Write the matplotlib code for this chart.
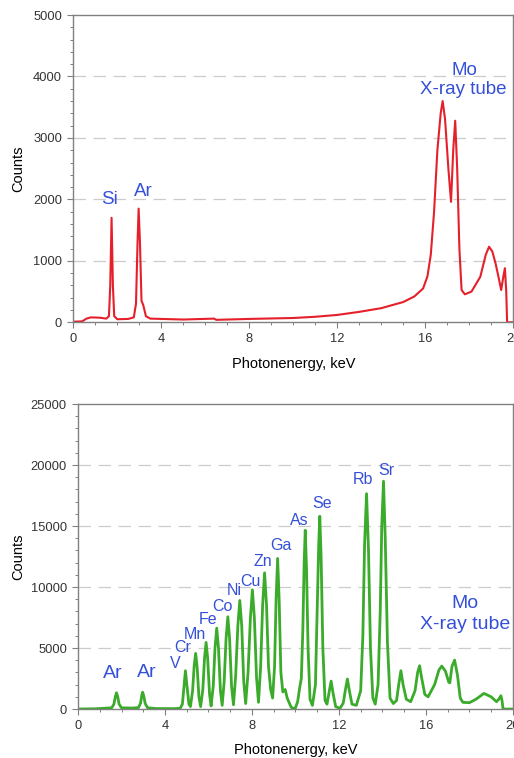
import numpy as np
import matplotlib.pyplot as plt
from matplotlib.ticker import MultipleLocator

plt.rcParams['font.family'] = ['Liberation Sans', 'DejaVu Sans']

# Spektrum atas (tanpa sampel) - energi keV, counts
e_top = [0.0, 0.4, 0.6, 0.8, 1.2, 1.5, 1.62, 1.68, 1.74, 1.80, 1.86, 2.0, 2.5, 2.75,
         2.85, 2.92, 2.97, 3.03, 3.1, 3.18, 3.3, 3.5, 5.0, 6.4, 6.5, 8.0, 10.0, 11.0,
         12.0, 13.0, 14.0, 15.0, 15.5, 15.9, 16.1, 16.25, 16.4, 16.55, 16.7, 16.79,
         16.9, 17.05, 17.17, 17.27, 17.36, 17.45, 17.55, 17.65, 17.8, 18.1, 18.3,
         18.5, 18.75, 18.9, 19.05, 19.2, 19.35, 19.45, 19.55, 19.62, 19.68, 19.72, 20.0]
c_top = [10, 15, 60, 80, 75, 60, 100, 600, 1700, 600, 100, 50, 55, 80,
         300, 1300, 1850, 1300, 350, 280, 100, 60, 45, 60, 40, 55, 70, 90,
         120, 170, 230, 330, 420, 550, 750, 1100, 1800, 2800, 3400, 3600,
         3300, 2500, 1960, 2800, 3280, 2500, 1200, 525, 455, 500, 620,
         740, 1100, 1230, 1150, 950, 700, 525, 750, 880, 500, 0, 0]

# Spektrum bawah (dengan sampel)
e_bot = [0.0, 0.8, 1.2, 1.55, 1.65, 1.72, 1.77, 1.82, 1.89, 2.0, 2.5, 2.78, 2.88, 2.93,
         2.97, 3.02, 3.09, 3.2, 3.6, 4.4, 4.7, 4.8, 4.87, 4.94, 5.01, 5.1, 5.17, 5.27,
         5.34, 5.41, 5.48, 5.56, 5.64, 5.74, 5.82, 5.89, 5.96, 6.05, 6.12, 6.22, 6.30,
         6.38, 6.46, 6.55, 6.63, 6.72, 6.81, 6.89, 6.97, 7.06, 7.15, 7.25, 7.35, 7.44,
         7.53, 7.62, 7.71, 7.82, 7.93, 8.02, 8.11, 8.21, 8.30, 8.40, 8.49, 8.58, 8.67,
         8.76, 8.86, 8.95, 9.04, 9.11, 9.18, 9.25, 9.33, 9.42, 9.53, 9.62, 9.80, 9.98,
         10.1, 10.2, 10.27, 10.34, 10.40, 10.45, 10.51, 10.58, 10.67, 10.78, 10.92,
         11.01, 11.07, 11.12, 11.18, 11.26, 11.36, 11.45, 11.55, 11.64, 11.73, 11.85,
         12.05, 12.2, 12.30, 12.39, 12.48, 12.6, 12.8, 13.0, 13.1, 13.18, 13.27, 13.36,
         13.45, 13.56, 13.67, 13.80, 13.90, 13.97, 14.05, 14.13, 14.23, 14.35, 14.5,
         14.65, 14.75, 14.85, 14.95, 15.1, 15.3, 15.5, 15.62, 15.71, 15.8, 15.95, 16.1,
         16.4, 16.6, 16.73, 16.9, 17.05, 17.1, 17.2, 17.32, 17.45, 17.58, 17.7, 18.0,
         18.3, 18.67, 19.0, 19.25, 19.35, 19.45, 19.5, 19.55, 20.0]
c_bot = [0, 20, 60, 100, 400, 1050, 1330, 1050, 400, 100, 80, 120, 500, 1100,
         1380, 1100, 450, 100, 40, 30, 60, 400, 1800, 3140, 1900, 400, 200, 1500,
         3500, 4560, 3400, 1000, 200, 1600, 4200, 5460, 4200, 1200, 250, 1900, 5000,
         6630, 5000, 1500, 300, 2200, 5800, 7560, 5800, 1900, 350, 2700, 6800, 8900,
         6800, 2300, 450, 3000, 7500, 9770, 7500, 2600, 550, 3500, 8500, 11160, 8500,
         3500, 1600, 900, 3500, 9000, 12340, 9000, 3000, 1400, 1600, 900, 150, 0,
         600, 1800, 2500, 6500, 12000, 14650, 11500, 5000, 800, 300, 2000,
         9000, 13500, 15800, 12500, 5000, 700, 400, 1400, 2290, 1300, 200,
         50, 500, 1600, 2460, 1500, 400, 300, 1500, 6000, 13500, 17650, 13000,
         5000, 900, 400, 2000, 8000, 15000, 18670, 14000, 5500, 900, 450,
         700, 2000, 3140, 2000, 800, 600, 1500, 3000, 3550, 2600, 1200, 1000,
         2000, 3200, 3520, 3100, 2200, 2150, 3500, 4010, 2800, 900, 550, 520,
         800, 1280, 1000, 600, 800, 1090, 700, 0, 0]

# Label unsur
lab_top = ['Si', 'Ar']
lab_top_x = [1.64, 3.18]
lab_top_y = [1990, 2125]

lab_bot = ['V', 'Cr', 'Mn', 'Fe', 'Co', 'Ni', 'Cu', 'Zn', 'Ga', 'As', 'Se', 'Rb', 'Sr']
lab_bot_x = [4.45, 4.82, 5.38, 5.98, 6.62, 7.17, 7.94, 8.48, 9.35, 10.18, 11.24, 13.11, 14.17]
lab_bot_y = [3740, 5020, 6110, 7340, 8430, 9740, 10420, 12060, 13370, 15450, 16840, 18800, 19570]
ar_x = [1.62, 3.18]
ar_y = [2920, 3000]

biru = '#3550d8'
abu = '#808080'

fig = plt.figure(figsize=(5.14, 7.58), dpi=100)
ax1 = fig.add_axes([0.1426, 0.5748, 0.856, 0.4054])
ax2 = fig.add_axes([0.1518, 0.0646, 0.846, 0.4024])


def gaya(ax, ymax, ymaj, ymin, pad_y):
    ax.set_xlim(0, 20)
    ax.set_ylim(0, ymax)
    ax.xaxis.set_major_locator(MultipleLocator(4))
    ax.xaxis.set_minor_locator(MultipleLocator(1))
    ax.yaxis.set_major_locator(MultipleLocator(ymaj))
    ax.yaxis.set_minor_locator(MultipleLocator(ymin))
    ax.tick_params(which='major', direction='out', length=4, width=0.8,
                   color=abu, labelsize=9.3, labelcolor='#333333', pad=4)
    ax.tick_params(which='minor', direction='out', length=2, width=0.7, color=abu)
    for s in ax.spines.values():
        s.set_color(abu)
        s.set_linewidth(1.0)
    for yv in np.arange(ymaj, ymax, ymaj):
        ax.axhline(yv, color='#cccccc', lw=0.9, ls=(0, (10, 6)), zorder=0)
    ax.set_xlabel('Photonenergy, keV', fontsize=10.5, labelpad=8)
    ax.set_ylabel('Counts', fontsize=10.5, labelpad=pad_y)


gaya(ax1, 5000, 1000, 200, 6)
ax1.plot(e_top, c_top, color='#e5202a', lw=1.5)
for t, x, y in zip(lab_top, lab_top_x, lab_top_y):
    ax1.text(x, y, t, color=biru, fontsize=13.5, ha='center', va='center')
ax1.text(17.76, 4105, 'Mo', color=biru, fontsize=13.5, ha='center', va='center')
ax1.text(17.73, 3780, 'X-ray tube', color=biru, fontsize=13.5, ha='center', va='center')

gaya(ax2, 25000, 5000, 1000, 4)
ax2.plot(e_bot, c_bot, color='#3aab2a', lw=2.0)
for t, x, y in zip(lab_bot, lab_bot_x, lab_bot_y):
    ax2.text(x, y, t, color=biru, fontsize=11.5, ha='center', va='center')
for x, y in zip(ar_x, ar_y):
    ax2.text(x, y, 'Ar', color=biru, fontsize=14, ha='center', va='center')
ax2.text(17.8, 8650, 'Mo', color=biru, fontsize=14, ha='center', va='center')
ax2.text(17.8, 6930, 'X-ray tube', color=biru, fontsize=14, ha='center', va='center')

plt.savefig('out.png', dpi=100)
